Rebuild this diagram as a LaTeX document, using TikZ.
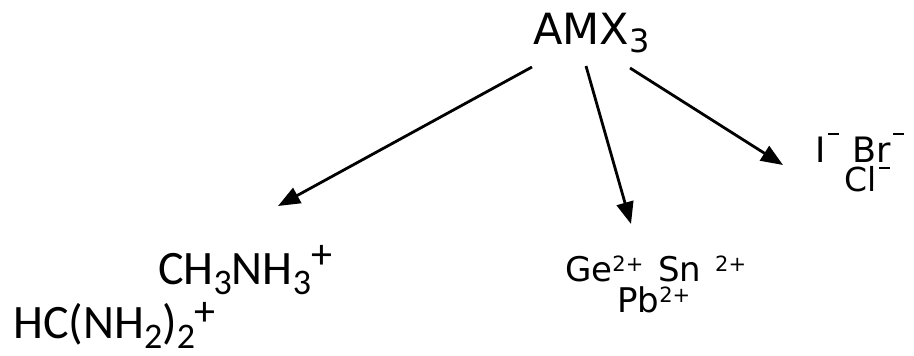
\documentclass[tikz,border=0pt]{standalone}
\usepackage{fontspec}
\setmainfont{DejaVu Sans}
\newfontfamily\calib{Carlito}
\usetikzlibrary{arrows.meta}
\newcommand\csub[1]{\raisebox{-0.22em}{\fontsize{36}{36}\selectfont #1}}
\newcommand\csup[2][0.33em]{\raisebox{#1}{\fontsize{42}{42}\selectfont #2}}
\newcommand\vsup[1]{\raisebox{0.28em}{\fontsize{21}{21}\selectfont #1}}
\newcommand\vmin[1]{\hspace{2pt}\raisebox{#1}{\rule{11pt}{1.6pt}}}
\begin{document}
\begin{tikzpicture}[x=1pt,y=-1pt,
  lbl/.style={inner sep=0pt,anchor=base west},
  verd/.style={lbl,font=\fontsize{34}{34}\selectfont},
  cal/.style={lbl,font=\calib\fontsize{48}{48}\selectfont},
  arr/.style={line width=2.8pt,-{Triangle[length=22pt,width=17pt]}}]
\useasboundingbox (0,0) rectangle (914,356);
\node[lbl,font=\fontsize{43}{43}\selectfont] (amx) at (533,45) {AMX\raisebox{-0.18em}{\fontsize{32}{32}\selectfont 3}};
\node[cal] (ch) at (158,284) {CH\csub{3}NH\csub{3}\csup{+}};
\node[cal] (hc) at (13,338) {HC(NH\csub{2})\csub{2}\hspace{-1pt}\csup[0.27em]{+}};
\node[verd] (ge) at (565,281) {Ge\vsup{2+}\hspace{4pt} Sn\hspace{3pt} \vsup{2+}};
\node[verd] (pb) at (617,312) {Pb\vsup{2+}};
\node[lbl,font=\fontsize{35}{35}\selectfont] (ibr) at (815,162) {I\vmin{27pt}\hspace{14pt}Br\vmin{27pt}};
\node[lbl,font=\fontsize{33}{33}\selectfont] (cl) at (844,191) {Cl\hspace{1pt}\vmin{22pt}};
\coordinate (s1) at (532,67);
\coordinate (s2) at (586,66);
\coordinate (s3) at (630,68);
\coordinate (e1) at (278,206);
\coordinate (e2) at (631,224);
\coordinate (e3) at (783,165);
\draw[arr] (s1) -- (e1);
\draw[arr] (s2) -- (e2);
\draw[arr] (s3) -- (e3);
\end{tikzpicture}
\end{document}
